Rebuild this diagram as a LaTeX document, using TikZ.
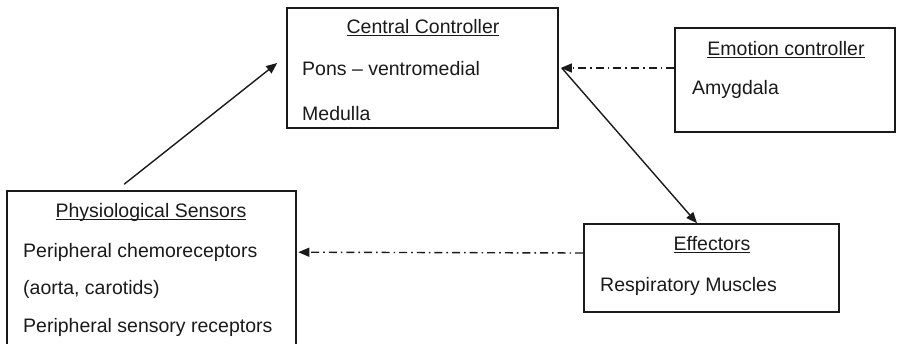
\documentclass[tikz,border=0pt]{standalone}
\usepackage{fontspec}
\setmainfont{Liberation Sans}
\usetikzlibrary{arrows.meta,calc}

% underlined heading with a rule just below the baseline
\newsavebox\headbox
\newcommand\headtext[1]{\sbox\headbox{#1}\rlap{\rule[-3.4pt]{\wd\headbox}{1.3pt}}\usebox\headbox}

\definecolor{ink}{HTML}{1A1A1A}

\tikzset{
  block/.style={draw=ink, line width=1.6pt, inner sep=0pt},
  label/.style={text=ink, inner sep=0pt, anchor=base west,
    font=\fontsize{19.5}{23}\selectfont},
  heading/.style={label, anchor=base},
  flow/.style={draw=ink, line width=1.4pt, -{Triangle[length=11pt,width=9pt]}},
  influence/.style={flow, dash pattern=on 8pt off 4pt on 1.6pt off 4pt}
}

\begin{document}
\begin{tikzpicture}[x=1pt, y=-1pt]
\useasboundingbox (0,0) rectangle (897,343);
\clip (0,0) rectangle (897,343);

% boxes
\node[block, minimum width=271pt, minimum height=120pt] (ctrl) at (422.5,68) {};
\node[block, minimum width=220pt, minimum height=104pt] (emo)  at (785,80) {};
\node[block, minimum width=289pt, minimum height=180pt] (sens) at (151.5,281) {};
\node[block, minimum width=255pt, minimum height=88pt]  (eff)  at (711.5,268) {};

% central controller
\node[heading] (ctrlT) at (423,33) {\headtext{Central Controller}};
\node[label]   (pons)  at (302,75) {Pons -- ventromedial};
\node[label]   (med)   at (302,120) {Medulla};

% emotion controller
\node[heading] (emoT) at (786,55) {\headtext{Emotion controller}};
\node[label]   (amy)  at (692,94) {Amygdala};

% physiological sensors
\node[heading] (sensT) at (151,217) {\headtext{Physiological Sensors}};
\node[label]   (chem)  at (23,257) {Peripheral chemoreceptors};
\node[label]   (aort)  at (23,294) {(aorta, carotids)};
\node[label]   (sensr) at (23,332) {Peripheral sensory receptors};

% effectors
\node[heading] (effT) at (712,250) {\headtext{Effectors}};
\node[label]   (resp) at (600,291) {Respiratory Muscles};

% connectors
\draw[flow] ($(sens.north west)+(118,-6)$) -- ($(ctrl.west)+(-9,-5)$);
\draw[flow] ($(ctrl.east)+(3,0)$) -- ($(eff.north)+(-14.5,0)$);
\draw[influence] ($(emo.west)+(0,-12)$) -- ($(ctrl.east)+(2,0)$);
\draw[influence] ($(eff.west)+(0,-15)$) -- ($(sens.north east)+(1.5,62)$);
\end{tikzpicture}
\end{document}
